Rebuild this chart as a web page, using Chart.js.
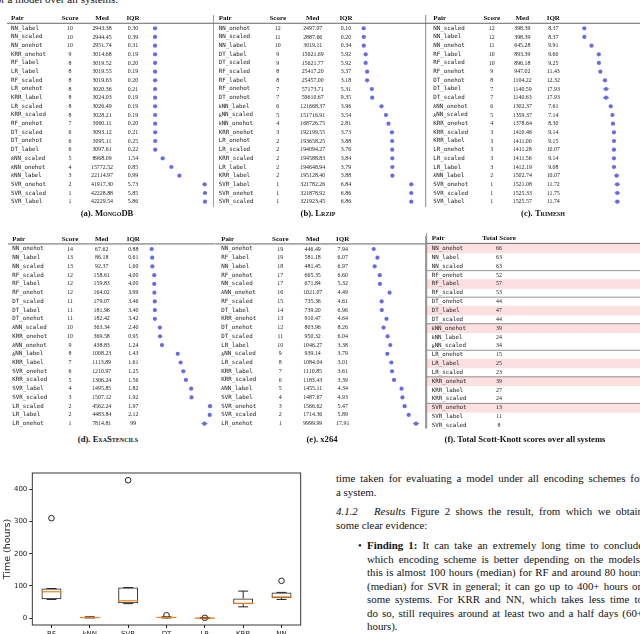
<!DOCTYPE html>
<html>
<head>
<meta charset="utf-8">
<script src="https://cdn.jsdelivr.net/npm/chart.js@4.4.0/dist/chart.umd.min.js"></script>
<style>
html, body { margin: 0; padding: 0; width: 640px; height: 634px; overflow: hidden; background: #fff; }
.box { position: absolute; }
.cap { position: absolute; font: bold 8.6px "Liberation Serif"; color: #111; white-space: nowrap; transform: translate(-50%, -50%); }
.sc { font-variant: small-caps; }
.txt { position: absolute; font: 10.9px "Liberation Serif"; color: #111; white-space: nowrap; line-height: 12px; }
.j { text-align: justify; text-align-last: justify; }
</style>
</head>
<body>

<div class="txt" style="left:-200px;width:318px;top:-7px;text-align:right">Scott-Knott results for a model over all systems.</div>

<div class="box" id="ta"><canvas id="ca"></canvas></div>
<div class="box" id="tb"><canvas id="cb"></canvas></div>
<div class="box" id="tc"><canvas id="cc"></canvas></div>
<div class="box" id="td"><canvas id="cd"></canvas></div>
<div class="box" id="te"><canvas id="ce"></canvas></div>
<div class="box" id="tf"><canvas id="cf"></canvas></div>

<div class="cap" style="left:107px;top:213px">(a). <span class="sc">MongoDB</span></div>
<div class="cap" style="left:318px;top:213px">(b). <span class="sc">Lrzip</span></div>
<div class="cap" style="left:543px;top:213px">(c). <span class="sc">Trimesh</span></div>
<div class="cap" style="left:108px;top:439px">(d). <span class="sc">ExaStencils</span></div>
<div class="cap" style="left:322px;top:439px">(e). x264</div>
<div class="cap" style="left:525px;top:439px">(f). Total Scott-Knott scores over all systems</div>

<div class="box" style="left:0;top:463px;width:310px;height:200px"><canvas id="boxchart"></canvas></div>

<div class="txt j" style="left:336px;top:472px;width:307px">time taken for evaluating a model under all encoding schemes for</div>
<div class="txt" style="left:336px;top:486px">a system.</div>
<div class="txt j" style="left:336px;top:505px;width:307px"><i>4.1.2</i>&nbsp;&nbsp;&nbsp;<i>Results</i> Figure 2 shows the result, from which we obtain</div>
<div class="txt" style="left:336px;top:519px">some clear evidence:</div>
<div class="txt" style="left:358px;top:539px">&bull;</div>
<div class="txt j" style="left:367px;top:539px;width:276px"><b>Finding 1:</b> It can take an extremely long time to conclude</div>
<div class="txt j" style="left:367px;top:552.5px;width:276px">which encoding scheme is better depending on the models:</div>
<div class="txt j" style="left:367px;top:566px;width:276px">this is almost 100 hours (median) for RF and around 80 hours</div>
<div class="txt j" style="left:367px;top:579.5px;width:276px">(median) for SVR in general; it can go up to 400+ hours on</div>
<div class="txt j" style="left:367px;top:593px;width:276px">some systems. For KRR and NN, which takes less time to</div>
<div class="txt j" style="left:367px;top:606.5px;width:276px">do so, still requires around at least two and a half days (60+</div>
<div class="txt" style="left:367px;top:620px">hours).</div>

<script>
// ---- (a) MongoDB
const mongoPair = ['NN_label','NN_scaled','NN_onehot','KRR_onehot','RF_label','LR_label','RF_scaled','LR_onehot','KRR_label','LR_scaled','KRR_scaled','RF_onehot','DT_scaled','DT_onehot','DT_label','kNN_scaled','kNN_onehot','kNN_label','SVR_onehot','SVR_scaled','SVR_label'];
const mongoScore = [10,10,10,9,8,8,8,8,8,8,8,7,6,6,6,5,4,3,2,1,1];
const mongoMed = [2943.38,2944.45,2951.74,3014.68,3019.52,3019.55,3019.63,3020.36,3024.03,3026.49,3028.21,3060.11,3093.12,3095.11,3097.61,8968.09,15772.52,22114.97,41917.30,42228.88,42229.54];
const mongoIqr = [0.30,0.39,0.31,0.19,0.20,0.19,0.20,0.21,0.19,0.19,0.19,0.20,0.21,0.25,0.22,1.54,0.85,0.99,5.73,5.85,5.86];

// ---- (b) Lrzip
const lrzipPair = ['NN_onehot','NN_scaled','NN_label','DT_label','DT_scaled','RF_scaled','RF_label','RF_onehot','DT_onehot','kNN_label','kNN_scaled','kNN_onehot','KRR_onehot','LR_onehot','LR_scaled','KRR_scaled','LR_label','KRR_label','SVR_label','SVR_onehot','SVR_scaled'];
const lrzipScore = [12,11,10,9,9,8,8,7,7,6,5,4,3,2,2,2,2,2,1,1,1];
const lrzipMed = [2497.07,2887.66,3019.11,15621.69,15621.77,25417.20,25457.00,57173.71,59610.67,121668.37,151716.91,168726.75,192199.55,193658.25,194094.27,194588.83,194648.94,195128.40,321782.26,321878.92,321923.45];
const lrzipIqr = [0.10,0.20,0.34,5.92,5.92,3.37,3.18,5.31,9.35,3.96,3.54,2.81,3.73,3.88,3.76,3.84,3.79,3.88,6.84,6.86,6.86];

// ---- (c) Trimesh
const trimPair = ['NN_scaled','NN_label','NN_onehot','RF_label','RF_scaled','RF_onehot','DT_onehot','DT_label','DT_scaled','kNN_onehot','kNN_scaled','KRR_onehot','KRR_scaled','KRR_label','LR_onehot','LR_scaled','LR_label','kNN_label','SVR_onehot','SVR_scaled','SVR_label'];
const trimScore = [12,12,11,10,10,9,8,7,7,6,5,4,3,3,3,3,3,2,1,1,1];
const trimMed = [398.39,398.39,645.28,893.39,896.18,947.02,1104.22,1140.59,1140.63,1302.37,1359.37,1378.64,1410.46,1411.00,1411.28,1411.56,1412.19,1502.74,1521.08,1525.33,1525.57];
const trimIqr = [8.37,8.37,9.91,9.60,9.25,11.43,12.32,17.93,17.93,7.61,7.14,8.30,9.14,9.15,10.07,9.14,9.08,10.07,11.72,11.75,11.74];

// ---- (d) ExaStencils
const exaPair = ['NN_onehot','NN_label','NN_scaled','RF_scaled','RF_label','RF_onehot','DT_scaled','DT_label','DT_onehot','kNN_scaled','KRR_onehot','kNN_onehot','kNN_label','KRR_label','SVR_onehot','KRR_scaled','SVR_label','SVR_scaled','LR_scaled','LR_label','LR_onehot'];
const exaScore = [14,13,13,12,12,12,11,11,11,10,10,9,8,7,6,5,4,3,2,2,1];
const exaMed = [67.62,86.18,92.37,158.61,159.83,164.02,179.07,181.96,182.42,363.34,369.58,438.83,1008.23,1113.89,1210.97,1306.24,1495.85,1507.12,4562.24,4483.84,7814.81];
const exaIqr = [0.88,0.61,1.60,4.00,4.00,3.99,3.46,3.40,3.42,2.40,0.95,1.24,1.43,1.61,1.25,1.56,1.82,1.92,1.97,2.12,99];
// where the dots sit in the plot (the LR rows are pinned near the right edge)
const exaDot = [67.62,86.18,92.37,158.61,159.83,164.02,179.07,181.96,182.42,363.34,369.58,438.83,1008.23,1113.89,1210.97,1306.24,1495.85,1507.12,2176,2166,1975];

// ---- (e) x264
const x264Pair = ['NN_onehot','RF_label','NN_label','RF_onehot','NN_scaled','kNN_onehot','RF_scaled','DT_label','KRR_onehot','DT_onehot','DT_scaled','LR_label','kNN_scaled','LR_scaled','KRR_label','KRR_scaled','kNN_label','SVR_label','SVR_onehot','SVR_scaled','LR_onehot'];
const x264Score = [19,19,18,17,17,16,15,14,13,12,11,10,9,8,7,6,5,4,3,2,1];
const x264Med = [446.49,581.18,481.45,665.35,671.84,1021.07,735.36,739.20,910.47,803.96,950.32,1046.27,939.14,1084.04,1110.85,1183.43,1455.11,1487.67,1566.62,1714.36,9999.99];
const x264Iqr = [7.94,6.07,6.97,6.60,5.32,4.49,4.61,6.96,4.64,8.26,6.04,3.38,3.79,3.01,3.61,3.39,4.34,4.93,5.47,5.89,17.91];
const x264Dot = [446.49,581.18,481.45,665.35,671.84,1021.07,735.36,739.20,910.47,803.96,950.32,1046.27,939.14,1084.04,1110.85,1183.43,1455.11,1487.67,1566.62,1714.36,1979];

// ---- (f) total scores
const totalPair = ['NN_onehot','NN_label','NN_scaled','RF_onehot','RF_label','RF_scaled','DT_onehot','DT_label','DT_scaled','kNN_onehot','kNN_label','kNN_scaled','LR_onehot','LR_label','LR_scaled','KRR_onehot','KRR_label','KRR_scaled','SVR_onehot','SVR_label','SVR_scaled'];
const totalScore = [66,63,63,52,57,53,44,47,44,39,24,34,15,25,23,39,27,24,13,11,8];

// ---- boxplot: time (hours)
const boxLabels = ['RF','kNN','SVR','DT','LR','KRR','NN'];
const boxLow  = [58, 0.5, 45, 0.5, -1.5, 35, 58];
const boxQ1   = [59, 0.8, 46, 1, -1, 43, 62];
const boxMed  = [82, 1.5, 54, 2, 0, 46, 66];
const boxQ3   = [92, 3, 95, 3, 1, 61, 80];
const boxHigh = [92, 4, 95, 4, 2, 84, 80];
const boxOut  = [311, null, 429, 9, 1, null, 116];

const DOT = '#6a6ae6';
const LINE = '#7a7a7a';

function drawPair(ctx, s, x, y) {
    if (s.startsWith('kNN')) {
        ctx.font = 'italic 6.6px "Liberation Serif"';
        ctx.fillText('k', x, y);
        x += ctx.measureText('k').width;
        s = s.slice(1);
    }
    ctx.font = '5.8px "DejaVu Sans Mono"';
    ctx.fillText(s, x, y);
}

function fmtIqr(v) {
    return v >= 99 ? String(v) : v.toFixed(2);
}

// one plugin per table, draws cells, rules and iqr whiskers around the library's points
function tablePlugin(t) {
    return {
        id: 'sk_' + t.id,
        afterDatasetsDraw(chart) {
            const ctx = chart.ctx, ys = chart.scales.y, xs = chart.scales.x;
            const rowY = i => ys.getPixelForValue(i) + t.T;
            ctx.save();
            ctx.translate(-t.L, -t.T);

            ctx.strokeStyle = LINE;
            ctx.lineWidth = 0.9;
            t.vlines.forEach(v => {
                ctx.beginPath(); ctx.moveTo(v[0], v[1]); ctx.lineTo(v[0], v[2]); ctx.stroke();
            });
            ctx.strokeStyle = '#666';
            ctx.lineWidth = 1;
            const ry = rowY(-0.58);
            ctx.beginPath(); ctx.moveTo(t.rule[0], ry); ctx.lineTo(t.rule[1], ry); ctx.stroke();
            if (t.groups) {
                ctx.strokeStyle = LINE;
                ctx.lineWidth = 0.8;
                for (let i = 2; i < t.pair.length - 1; i += 3) {
                    const gy = rowY(i + 0.5);
                    ctx.beginPath(); ctx.moveTo(t.rule[0], gy); ctx.lineTo(t.rule[1], gy); ctx.stroke();
                }
            }

            // header
            ctx.fillStyle = '#111';
            ctx.textBaseline = 'middle';
            ctx.font = 'bold 7px "Liberation Serif"';
            const hy = rowY(-1.15);
            ctx.textAlign = 'left';
            ctx.fillText('Pair', t.cols[0], hy);
            ctx.textAlign = 'center';
            t.heads.forEach((h, k) => ctx.fillText(h, t.cols[k + 1], hy));

            // rows
            ctx.fillStyle = '#222';
            t.pair.forEach((p, i) => {
                const y = rowY(i);
                ctx.textAlign = 'left';
                drawPair(ctx, p, t.cols[0], y);
                ctx.textAlign = 'center';
                ctx.font = '5.9px "Liberation Serif"';
                ctx.fillText(String(t.score[i]), t.cols[1], y);
                if (t.med) {
                    ctx.fillText(t.med[i].toFixed(2), t.cols[2], y);
                    ctx.fillText(fmtIqr(t.iqr[i]), t.cols[3], y);
                }
            });

            // iqr whiskers
            if (t.dot) {
                ctx.strokeStyle = DOT;
                ctx.lineWidth = 1;
                const perUnit = Math.abs(xs.getPixelForValue(1) - xs.getPixelForValue(0));
                t.dot.forEach((d, i) => {
                    const len = Math.min(6, t.iqr[i] / 100 * t.med[i] * perUnit);
                    const cx = xs.getPixelForValue(d) + t.L, y = rowY(i);
                    ctx.beginPath(); ctx.moveTo(cx - len / 2, y); ctx.lineTo(cx + len / 2, y); ctx.stroke();
                });
            }
            ctx.restore();
        }
    };
}

function makeTable(t) {
    const el = document.getElementById(t.id);
    el.style.left = t.L + 'px';
    el.style.top = t.T + 'px';
    el.style.width = t.W + 'px';
    el.style.height = t.H + 'px';
    const n = t.pair.length;
    const top = t.y0 - t.dy / 2, bottom = t.y0 + (n - 0.5) * t.dy;
    let data, type = 'scatter', xmin, xmax, extra = {};
    if (t.dot) {
        data = [{ data: t.dot.map((v, i) => ({ x: v, y: i })), pointRadius: 2.1, backgroundColor: DOT, borderWidth: 0, clip: false }];
        xmin = Math.min(...t.dot); xmax = Math.max(...t.dot);
    } else {
        type = 'bar';
        extra = { indexAxis: 'y' };
        data = [{ data: t.best.map((b, i) => b ? { x: [0, 1], y: i } : null).filter(Boolean),
                  backgroundColor: '#fce0e0', borderWidth: 0, barThickness: t.dy }];
        xmin = 0; xmax = 1;
    }
    new Chart(el.querySelector('canvas'), {
        type: type,
        data: { datasets: data },
        options: Object.assign({
            responsive: true,
            maintainAspectRatio: false,
            animation: false,
            events: [],
            layout: { padding: { left: t.x0 - t.L, right: t.L + t.W - t.x1, top: top - t.T, bottom: t.T + t.H - bottom } },
            scales: {
                x: { type: 'linear', display: false, offset: false, min: xmin, max: xmax },
                y: { type: 'linear', display: false, offset: false, reverse: true, min: -0.5, max: n - 0.5 }
            },
            plugins: { legend: { display: false }, tooltip: { enabled: false } }
        }, extra),
        plugins: [tablePlugin(t)]
    });
}

const heads = ['Score', 'Med', 'IQR'];
makeTable({ id: 'ta', L: 0, T: 6, W: 214, H: 204, y0: 28.3, dy: 8.67, x0: 155, x1: 205,
    cols: [11, 70, 102, 133], heads: heads, rule: [7, 213.7], vlines: [[213.7, 15, 207]],
    pair: mongoPair, score: mongoScore, med: mongoMed, iqr: mongoIqr, dot: mongoMed });
makeTable({ id: 'tb', L: 213, T: 6, W: 214, H: 204, y0: 28.3, dy: 8.67, x0: 363.7, x1: 411.3,
    cols: [218.7, 277.7, 312.7, 346], heads: heads, rule: [213.7, 425.7], vlines: [[425.7, 15, 207]],
    pair: lrzipPair, score: lrzipScore, med: lrzipMed, iqr: lrzipIqr, dot: lrzipMed });
makeTable({ id: 'tc', L: 425, T: 6, W: 215, H: 204, y0: 28.3, dy: 8.67, x0: 584.3, x1: 617.3,
    cols: [433.3, 491.7, 522.3, 553.3], heads: heads, rule: [425.7, 640], vlines: [],
    pair: trimPair, score: trimScore, med: trimMed, iqr: trimIqr, dot: trimMed });
makeTable({ id: 'td', L: 0, T: 230, W: 214, H: 202, y0: 249, dy: 8.75, x0: 151.7, x1: 210.3,
    cols: [12.3, 70, 101.7, 133.3], heads: heads, rule: [8, 214.5], vlines: [[214.5, 236, 428.5]],
    pair: exaPair, score: exaScore, med: exaMed, iqr: exaIqr, dot: exaDot });
makeTable({ id: 'te', L: 213, T: 230, W: 214, H: 202, y0: 249, dy: 8.75, x0: 373.7, x1: 416,
    cols: [221.3, 280.3, 312.7, 342.7], heads: heads, rule: [214.5, 425.7], vlines: [[425.7, 236, 428.5]],
    pair: x264Pair, score: x264Score, med: x264Med, iqr: x264Iqr, dot: x264Dot });

// best encoding of each model gets the pink band
const totalBest = totalScore.map((s, i) => {
    const g = Math.floor(i / 3) * 3;
    return s === Math.max(...totalScore.slice(g, g + 3));
});
makeTable({ id: 'tf', L: 425, T: 230, W: 215, H: 202, y0: 248.5, dy: 8.85, x0: 427, x1: 640,
    cols: [431.7, 499], heads: ['Total Score'], rule: [426.7, 640], vlines: [[426.7, 233, 428.5]], groups: true,
    pair: totalPair, score: totalScore, best: totalBest });

// ---- boxplot
const boxParts = {
    id: 'boxParts',
    afterDatasetsDraw(chart) {
        const ctx = chart.ctx, xs = chart.scales.x, ys = chart.scales.y;
        const step = xs.getPixelForValue(1) - xs.getPixelForValue(0);
        const half = step * 0.26, cap = step * 0.13;
        ctx.save();
        ctx.lineWidth = 1;
        boxLabels.forEach((_, i) => {
            const cx = xs.getPixelForValue(i);
            const lo = ys.getPixelForValue(boxLow[i]), hi = ys.getPixelForValue(boxHigh[i]);
            ctx.strokeStyle = '#222';
            ctx.beginPath();
            ctx.moveTo(cx, ys.getPixelForValue(boxQ1[i])); ctx.lineTo(cx, lo);
            ctx.moveTo(cx, ys.getPixelForValue(boxQ3[i])); ctx.lineTo(cx, hi);
            ctx.moveTo(cx - cap, lo); ctx.lineTo(cx + cap, lo);
            ctx.moveTo(cx - cap, hi); ctx.lineTo(cx + cap, hi);
            ctx.stroke();
            const my = ys.getPixelForValue(boxMed[i]);
            ctx.strokeStyle = '#ff7f0e';
            ctx.lineWidth = 1.2;
            ctx.beginPath(); ctx.moveTo(cx - half, my); ctx.lineTo(cx + half, my); ctx.stroke();
            ctx.lineWidth = 1;
        });
        const a = chart.chartArea;
        ctx.strokeStyle = '#222';
        ctx.lineWidth = 0.9;
        ctx.strokeRect(a.left, a.top, a.right - a.left, a.bottom - a.top);
        ctx.restore();
    }
};

const tickFont = { family: 'DejaVu Sans', size: 7 };
new Chart(document.getElementById('boxchart'), {
    type: 'bar',
    data: {
        labels: boxLabels,
        datasets: [
            {
                type: 'bar',
                data: boxQ1.map((q, i) => [q, boxQ3[i]]),
                backgroundColor: 'rgba(0,0,0,0)',
                borderColor: '#222',
                borderWidth: 1,
                borderSkipped: false,
                barPercentage: 0.52,
                categoryPercentage: 1
            },
            {
                type: 'line',
                data: boxOut,
                showLine: false,
                pointRadius: 2.8,
                pointBackgroundColor: 'rgba(0,0,0,0)',
                pointBorderColor: '#222',
                pointBorderWidth: 1
            }
        ]
    },
    options: {
        responsive: true,
        maintainAspectRatio: false,
        animation: false,
        events: [],
        layout: { padding: { top: 10, right: 9.3, left: 0, bottom: 0 } },
        scales: {
            x: {
                grid: { display: true, drawOnChartArea: false, drawTicks: true, tickLength: 3, color: '#222', offset: false },
                border: { display: false },
                ticks: { font: tickFont, color: '#222', padding: 2, maxRotation: 0 },
                afterFit: s => { s.height = 38; }
            },
            y: {
                min: -21.5,
                max: 451.5,
                grid: { display: true, drawOnChartArea: false, drawTicks: true, tickLength: 3, color: '#222' },
                border: { display: false },
                ticks: { font: tickFont, color: '#222', padding: 2 },
                afterBuildTicks: s => { s.ticks = [0, 100, 200, 300, 400].map(v => ({ value: v })); },
                title: { display: true, text: 'Time (hours)', font: { family: 'DejaVu Sans', size: 9.5 }, color: '#222', padding: { top: 2, bottom: 1 } },
                afterFit: s => { s.width = 32.3; }
            }
        },
        plugins: { legend: { display: false }, tooltip: { enabled: false } }
    },
    plugins: [boxParts]
});
</script>
</body>
</html>
